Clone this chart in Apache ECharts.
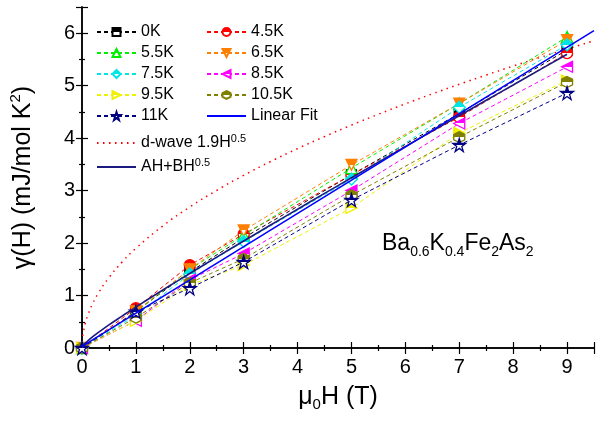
<!DOCTYPE html>
<html>
<head>
<meta charset="utf-8">
<script src="https://cdn.jsdelivr.net/npm/echarts@6/dist/echarts.min.js"></script>
<style>
html,body{margin:0;padding:0;background:#fff;}
#chart{width:598px;height:421px;}
</style>
</head>
<body>
<div id="chart"></div>
<script>
// ---- data ----
const fields = [0, 1, 2, 3, 5, 7, 9];               // mu0H (T)
const names = ['0K','4.5K','5.5K','6.5K','7.5K','8.5K','9.5K','10.5K','11K'];
const g0K   = [0, 0.70, 1.45, 2.10, 3.30, 4.47, 5.68];
const g4_5K = [0, 0.76, 1.58, 2.17, 3.30, 4.40, 5.62];
const g5_5K = [0, 0.68, 1.50, 2.15, 3.43, 4.66, 5.93];
const g6_5K = [0, 0.70, 1.50, 2.24, 3.49, 4.66, 5.87];
const g7_5K = [0, 0.62, 1.41, 2.03, 3.22, 4.59, 5.78];
const g8_5K = [0, 0.52, 1.30, 1.80, 3.00, 4.28, 5.36];
const g9_5K = [0, 0.52, 1.20, 1.58, 2.67, 4.10, 5.10];
const g10_5K= [0, 0.58, 1.24, 1.70, 2.91, 4.02, 5.07];
const g11K  = [0, 0.69, 1.14, 1.64, 2.82, 3.87, 4.86];

const fitH   = [0, 9.5];
const fitG   = [0.03, 6.05];

const dwH = [0, 0.01, 0.03, 0.06, 0.1, 0.2, 0.3, 0.5, 0.75, 1, 1.5, 2, 2.5, 3, 3.5, 4, 4.5, 5, 5.5, 6, 6.5, 7, 7.5, 8, 8.5, 9, 9.5];
const dwG = [0, 0.19, 0.329, 0.465, 0.601, 0.850, 1.041, 1.343, 1.645, 1.90, 2.327, 2.687, 3.004, 3.291, 3.555, 3.80, 4.030, 4.249, 4.456, 4.654, 4.844, 5.027, 5.203, 5.374, 5.539, 5.70, 5.856];

const ahH = [0, 0.05, 0.1, 0.2, 0.3, 0.5, 0.75, 1, 1.5, 2, 2.5, 3, 3.5, 4, 4.5, 5, 5.5, 6, 6.5, 7, 7.5, 8, 8.5, 9];
const ahG = [0, 0.080, 0.129, 0.215, 0.293, 0.440, 0.612, 0.780, 1.105, 1.421, 1.733, 2.039, 2.344, 2.646, 2.947, 3.245, 3.543, 3.839, 4.134, 4.428, 4.722, 5.014, 5.307, 5.598];

const xTicks = [0,1,2,3,4,5,6,7,8,9];
const yTicks = [0,1,2,3,4,5,6];

// ---- styling ----
const FONT = 'Liberation Sans, Arial, sans-serif';
const colors = ['#000000','#ff0000','#00ee00','#ff8000','#00e5e5','#ff00ff','#f0f000','#808000','#000080'];
const symbols = [
  'rect',
  'circle',
  'path://M5,0 L10,9 L0,9 Z',
  'path://M0,0 L10,0 L5,9 Z',
  'diamond',
  'path://M9,0 L9,10 L0,5 Z',
  'path://M0,0 L0,10 L9,5 Z',
  'path://M5,0 L10,3 L10,9 L5,12 L0,9 L0,3 Z',
  'path://M50,0 L61.8,35.3 L99,35.3 L69,57.3 L80.4,92.7 L50,70.7 L19.6,92.7 L31,57.3 L1,35.3 L38.2,35.3 Z'
];
const sizes = [10, 11, 11, 11, 12, 11, 11, 11, 13];
const series_y = [g0K, g4_5K, g5_5K, g6_5K, g7_5K, g8_5K, g9_5K, g10_5K, g11K];

function halfFill(c){
  return {type:'linear', x:0, y:0, x2:0, y2:1, colorStops:[
    {offset:0, color:c},{offset:0.5, color:c},{offset:0.5, color:'#ffffff'},{offset:1, color:'#ffffff'}]};
}
function pairs(xs, ys){ return xs.map((x,i)=>[x, ys[i]]); }

const series = names.map((n,i)=>({
  name: n, type:'line', data: pairs(fields, series_y[i]),
  symbol: symbols[i], symbolSize: sizes[i],
  lineStyle:{color: colors[i], width:1, type:[4,3]},
  itemStyle:{color: halfFill(colors[i]), borderColor: colors[i], borderWidth:1.3},
  z: 3 + i
}));
series.push({
  name:'Linear Fit', type:'line', data: pairs(fitH, fitG), symbol:'none',
  lineStyle:{color:'#0000ff', width:1.6}, itemStyle:{color:'#0000ff'}, z: 20
});
series.push({
  name:'d-wave', type:'line', data: pairs(dwH, dwG), symbol:'none', smooth:true,
  lineStyle:{color:'#ff0000', width:1.5, type:[1.5,4.5]}, itemStyle:{color:'#ff0000'}, z: 2
});
series.push({
  name:'AH+BH', type:'line', data: pairs(ahH, ahG), symbol:'none', smooth:true,
  lineStyle:{color:'#1a1a80', width:1.6}, itemStyle:{color:'#1a1a80'}, z: 19
});

const supRich = {
  sup:{fontSize:11, fontFamily:FONT, color:'#000', verticalAlign:'top', lineHeight:20},
};
function legendFmt(n){
  if(n==='d-wave') return 'd-wave 1.9H{sup|0.5}';
  if(n==='AH+BH') return 'AH+BH{sup|0.5}';
  return n;
}
const legendBase = {
  orient:'vertical', padding:0, itemWidth:39, itemHeight:10, itemGap:1,
  textStyle:{fontFamily:FONT, fontSize:16, color:'#000', lineHeight:20, rich:supRich},
  formatter: legendFmt, selectedMode:false
};
const noSym = n => ({name:n, itemStyle:{opacity:0}});

const axisCommon = {
  type:'value', axisLine:{lineStyle:{color:'#000', width:1.5}},
  axisTick:{inside:true, length:6, lineStyle:{color:'#000', width:1.2}},
  minorTick:{show:true, splitNumber:2, length:3, lineStyle:{color:'#000', width:1.2}},
  splitLine:{show:false}
};

const chart = echarts.init(document.getElementById('chart'), null, {renderer:'canvas'});
chart.setOption({
  animation:false,
  backgroundColor:'#fff',
  grid:{left:78, right:4, top:7, bottom:73, containLabel:false},
  legend:[
    Object.assign({}, legendBase, {left:96, top:22, data:['0K','5.5K','7.5K','9.5K','11K']}),
    Object.assign({}, legendBase, {left:206, top:22, data:['4.5K','6.5K','8.5K','10.5K', noSym('Linear Fit')]}),
    Object.assign({}, legendBase, {left:96, top:133, itemGap:4, data:[noSym('d-wave'), noSym('AH+BH')]})
  ],
  xAxis:[
    Object.assign({}, axisCommon, {position:'bottom', min:0, max:9.5, interval:1,
      axisLabel:{fontFamily:FONT, fontSize:20, color:'#000', margin:9, showMaxLabel:false,
        formatter:v=> xTicks.indexOf(v)>=0 ? String(v) : ''},
      name:'μ{sub|0}H (T)', nameLocation:'middle', nameGap:33,
      nameTextStyle:{fontFamily:FONT, fontSize:25, color:'#000', lineHeight:30,
        rich:{sub:{fontFamily:FONT, fontSize:15, color:'#000', verticalAlign:'bottom', lineHeight:30}}}}),
    Object.assign({}, axisCommon, {position:'top', min:0, max:9.5, interval:1, axisLabel:{show:false}})
  ],
  yAxis:[
    Object.assign({}, axisCommon, {position:'left', min:0, max:6.5, interval:1,
      axisLabel:{fontFamily:FONT, fontSize:20, color:'#000', margin:7, showMaxLabel:false,
        formatter:v=> yTicks.indexOf(v)>=0 ? String(v) : ''},
      name:'γ(H) (mJ/mol K{sup|2})', nameLocation:'middle', nameGap:44,
      nameTextStyle:{fontFamily:FONT, fontSize:25, color:'#000', lineHeight:30,
        rich:{sup:{fontFamily:FONT, fontSize:15, color:'#000', verticalAlign:'top', lineHeight:30}}}}),
    Object.assign({}, axisCommon, {position:'right', min:0, max:6.5, interval:1, axisLabel:{show:false}})
  ],
  graphic:[{
    type:'text', left:382, top:229, z:100,
    style:{
      text:'Ba{s|0.6}K{s|0.4}Fe{s|2}As{s|2}',
      font:'23px ' + FONT, fill:'#000', lineHeight:30,
      rich:{s:{fontFamily:FONT, fontSize:14, fill:'#000', verticalAlign:'bottom', lineHeight:30}}
    }
  }],
  series: series
});
</script>
</body>
</html>
